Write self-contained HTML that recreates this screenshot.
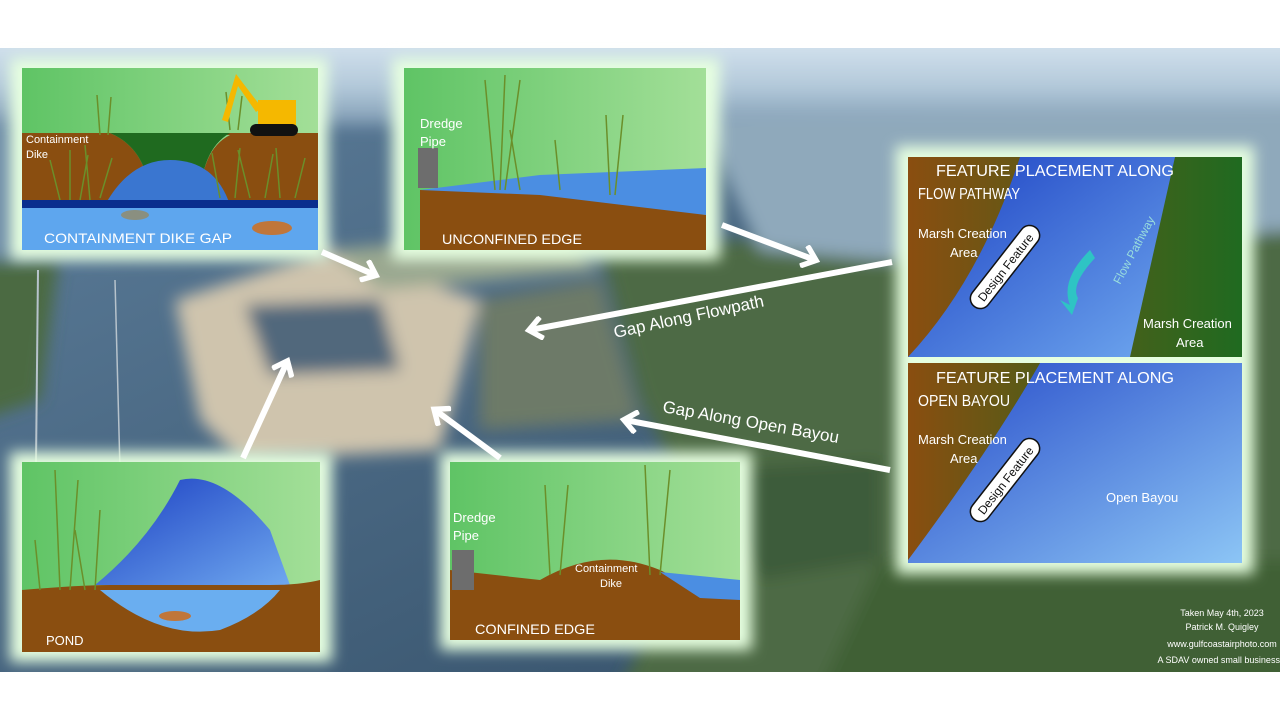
<!DOCTYPE html>
<html><head><meta charset="utf-8"><style>
body{margin:0;width:1280px;height:720px;background:#fff;overflow:hidden;font-family:"Liberation Sans",sans-serif}
svg{display:block}
text{font-family:"Liberation Sans",sans-serif}
</style></head><body>
<svg width="1280" height="720" viewBox="0 0 1280 720" xmlns="http://www.w3.org/2000/svg">
<defs>
<linearGradient id="sky" x1="0" y1="0" x2="0" y2="1">
<stop offset="0" stop-color="#dce9f3"/><stop offset="0.6" stop-color="#b3c9da"/><stop offset="1" stop-color="#7f9bb3"/></linearGradient>
<linearGradient id="wat" x1="0" y1="0" x2="1" y2="1">
<stop offset="0" stop-color="#5e7f9c"/><stop offset="1" stop-color="#2f4a62"/></linearGradient>
<linearGradient id="grn" x1="0" y1="0" x2="1" y2="0">
<stop offset="0" stop-color="#5fc465"/><stop offset="1" stop-color="#a3df98"/></linearGradient>
<linearGradient id="blu" x1="0" y1="0" x2="1" y2="1">
<stop offset="0" stop-color="#1b3fc2"/><stop offset="1" stop-color="#6fa8ef"/></linearGradient>
<linearGradient id="blu2" x1="0" y1="0" x2="1" y2="1">
<stop offset="0" stop-color="#2448c8"/><stop offset="1" stop-color="#8cc5f5"/></linearGradient>
<linearGradient id="brn" x1="0" y1="0" x2="1" y2="0">
<stop offset="0" stop-color="#8a4e10"/><stop offset="1" stop-color="#1f6a20"/></linearGradient>
<filter id="glow" x="-20%" y="-20%" width="140%" height="140%"><feGaussianBlur stdDeviation="7"/></filter>
<filter id="soft" x="-10%" y="-10%" width="120%" height="120%"><feGaussianBlur stdDeviation="8"/></filter>
<clipPath id="ph"><rect x="0" y="48" width="1280" height="624"/></clipPath>
<marker id="ah" markerWidth="4" markerHeight="4" refX="2.2" refY="2" orient="auto" markerUnits="strokeWidth">
<path d="M0.2,0.2 L2.4,2 L0.2,3.8" fill="none" stroke="#fff" stroke-width="0.9"/></marker>
</defs>
<!-- photo -->
<g clip-path="url(#ph)">
<rect x="0" y="48" width="1280" height="624" fill="url(#wat)"/>
<g filter="url(#soft)">
<rect x="-20" y="30" width="1320" height="95" fill="url(#sky)"/>
<path d="M600,250 L1300,200 L1300,690 L620,690 L700,520 L640,400 Z" fill="#4d6b45"/>
<path d="M700,120 L1300,110 L1300,230 L880,260 L760,250 Z" fill="#8fa9bb"/>
<path d="M880,560 L1300,560 L1300,690 L820,690 Z" fill="#3f6136"/>
<path d="M-20,260 L60,250 L40,400 L-20,420 Z" fill="#4c6a42"/>
<path d="M-20,120 L300,120 L330,250 L-20,260Z" fill="#6f8ea8"/>
<path d="M175,300 L330,250 L480,300 L440,450 L240,460 L200,420 Z" fill="#cfc4ad"/>
<path d="M245,305 L380,300 L400,370 L270,375 Z" fill="#51677c"/>
<path d="M480,300 L600,280 L640,420 L480,430 Z" fill="#6d7a68"/>
<path d="M330,250 L560,230 L600,270 L380,290 Z" fill="#9aa890"/>
<path d="M700,470 L880,460 L880,560 L760,580Z" fill="#3e5c3a"/>
</g>
<line x1="38" y1="270" x2="35" y2="560" stroke="#b7c3cc" stroke-width="2"/>
<line x1="115" y1="280" x2="120" y2="470" stroke="#b7c3cc" stroke-width="1.5"/>
</g>
<!-- glows -->
<g fill="#e6ffe0" filter="url(#glow)">
<rect x="10" y="58" width="318" height="202"/>
<rect x="392" y="58" width="328" height="202"/>
<rect x="896" y="146" width="358" height="428"/>
<rect x="10" y="452" width="322" height="210"/>
<rect x="440" y="452" width="312" height="198"/>
</g>
<!-- panel 1 -->
<rect x="22" y="68" width="296" height="182" fill="url(#grn)"/>
<path d="M22,133 L110,133 Q150,150 150,205 L22,205Z" fill="#8a4e10"/>
<path d="M110,133 L318,133 L318,205 L200,205 Q200,150 230,135Z" fill="#8a4e10"/>
<path d="M110,133 L230,133 Q200,150 200,205 L150,205 Q150,150 110,133Z" fill="#1f6a1f"/>
<path d="M105,205 Q130,160 170,160 Q215,160 230,205Z" fill="#3a76d0"/>
<rect x="22" y="200" width="296" height="8" fill="#0a2e8e"/>
<rect x="22" y="208" width="296" height="42" fill="#5ea6ee"/>
<g stroke="#6b8f2a" stroke-width="1.5" fill="none">
<path d="M60,200 l-10,-40 M70,200 l0,-50 M80,200 l8,-45 M90,200 l-5,-55 M100,198 l12,-40 M220,198 l-8,-45 M235,198 l5,-50 M250,198 l-12,-48 M265,198 l8,-44 M280,198 l-4,-50 M295,198 l10,-40"/>
<path d="M100,135 l-3,-40 M108,135 l3,-38 M230,130 l-4,-38 M238,130 l4,-34"/></g>
<g fill="#f5b800"><path d="M222,120 L236,74 L262,108 L256,112 L238,86 L228,122Z"/><rect x="258" y="100" width="38" height="26"/></g>
<rect x="250" y="124" width="48" height="12" rx="6" fill="#111"/>
<text x="26" y="143" font-size="11" fill="#fff">Containment</text>
<text x="26" y="158" font-size="11" fill="#fff">Dike</text>
<ellipse cx="272" cy="228" rx="20" ry="7" fill="#c0763a"/>
<ellipse cx="135" cy="215" rx="14" ry="5" fill="#8a8f80"/>
<text x="44" y="243" font-size="14" fill="#fff" textLength="188" lengthAdjust="spacingAndGlyphs">CONTAINMENT DIKE GAP</text>
<!-- panel 2 -->
<rect x="404" y="68" width="302" height="182" fill="url(#grn)"/>
<path d="M420,190 L540,175 L706,168 L706,215 L420,195Z" fill="#4b8ee2"/>
<path d="M420,190 L540,195 L706,215 L706,250 L420,250Z" fill="#8a4e10"/>
<rect x="418" y="148" width="20" height="40" fill="#6d6d6d"/>
<text x="420" y="128" font-size="13" fill="#fff">Dredge</text>
<text x="420" y="146" font-size="13" fill="#fff">Pipe</text>
<g stroke="#6b8f2a" stroke-width="1.5" fill="none"><path d="M495,190 l-10,-110 M500,190 l5,-115 M505,190 l15,-110 M520,190 l-10,-60 M560,190 l-5,-50 M610,195 l-4,-80 M615,195 l8,-80"/></g>
<text x="442" y="244" font-size="14" fill="#fff" textLength="140" lengthAdjust="spacingAndGlyphs">UNCONFINED EDGE</text>
<!-- panel 3 -->
<rect x="908" y="157" width="334" height="200" fill="url(#brn)"/>
<path d="M1020,157 L1175,157 L1130,357 L908,357 Q980,280 1020,157Z" fill="url(#blu)"/>
<text x="936" y="176" font-size="16" fill="#fff" textLength="238" lengthAdjust="spacingAndGlyphs">FEATURE PLACEMENT ALONG</text>
<text x="918" y="199" font-size="16" fill="#fff" textLength="102" lengthAdjust="spacingAndGlyphs">FLOW PATHWAY</text>
<text x="918" y="238" font-size="13" fill="#fff">Marsh Creation</text>
<text x="950" y="257" font-size="13" fill="#fff">Area</text>
<text x="1143" y="328" font-size="13" fill="#fff">Marsh Creation</text>
<text x="1176" y="347" font-size="13" fill="#fff">Area</text>
<g transform="translate(1005,267) rotate(-52)"><rect x="-50" y="-10" width="100" height="20" rx="10" fill="#fff" stroke="#111" stroke-width="1.5"/><text x="0" y="5" font-size="12" text-anchor="middle" fill="#111">Design Feature</text></g>
<path d="M1090,250 Q1060,280 1070,305 L1060,300 L1072,315 L1078,298 Q1070,285 1095,258Z" fill="#2ec4c4"/>
<text transform="translate(1120,285) rotate(-62)" font-size="12" fill="#9dd">Flow Pathway</text>
<!-- panel 4 -->
<rect x="908" y="363" width="334" height="200" fill="url(#blu2)"/>
<path d="M908,363 L1040,363 Q990,450 908,560Z" fill="url(#brn)"/>
<path d="M908,363 L1040,363 Q990,450 908,560Z" fill="#8a4e10" opacity="0.5"/>
<text x="936" y="383" font-size="16" fill="#fff" textLength="238" lengthAdjust="spacingAndGlyphs">FEATURE PLACEMENT ALONG</text>
<text x="918" y="406" font-size="16" fill="#fff" textLength="92" lengthAdjust="spacingAndGlyphs">OPEN BAYOU</text>
<text x="918" y="444" font-size="13" fill="#fff">Marsh Creation</text>
<text x="950" y="463" font-size="13" fill="#fff">Area</text>
<text x="1106" y="502" font-size="13" fill="#fff">Open Bayou</text>
<g transform="translate(1005,480) rotate(-52)"><rect x="-50" y="-10" width="100" height="20" rx="10" fill="#fff" stroke="#111" stroke-width="1.5"/><text x="0" y="5" font-size="12" text-anchor="middle" fill="#111">Design Feature</text></g>
<!-- panel 5 -->
<rect x="22" y="462" width="298" height="190" fill="url(#grn)"/>
<path d="M95,585 Q150,540 180,480 Q220,470 270,530 Q290,585 290,585Z" fill="url(#blu)"/>
<path d="M22,590 Q80,585 110,585 L270,585 Q300,585 320,580 L320,652 L22,652Z" fill="#8a4e10"/>
<path d="M100,590 Q160,640 220,630 Q260,615 280,590Z" fill="#6aaef0"/>
<ellipse cx="175" cy="616" rx="16" ry="5" fill="#c0763a"/>
<g stroke="#6b8f2a" stroke-width="1.5" fill="none"><path d="M60,590 l-5,-120 M70,590 l8,-110 M85,590 l-10,-60 M95,590 l5,-80 M40,590 l-5,-50"/></g>
<text x="46" y="645" font-size="13" fill="#fff">POND</text>
<!-- panel 6 -->
<rect x="450" y="462" width="290" height="178" fill="url(#grn)"/>
<path d="M450,570 L540,580 Q600,545 660,570 L700,590 L740,585 L740,640 L450,640Z" fill="#8a4e10"/>
<path d="M660,572 L740,580 L740,600 L700,598Z" fill="#4b8ee2"/>
<rect x="452" y="550" width="22" height="40" fill="#6d6d6d"/>
<text x="453" y="522" font-size="13" fill="#fff">Dredge</text>
<text x="453" y="540" font-size="13" fill="#fff">Pipe</text>
<text x="575" y="572" font-size="11" fill="#fff">Containment</text>
<text x="600" y="587" font-size="11" fill="#fff">Dike</text>
<g stroke="#6b8f2a" stroke-width="1.5" fill="none"><path d="M550,575 l-5,-90 M560,575 l8,-90 M650,575 l-5,-110 M660,575 l10,-105"/></g>
<text x="475" y="634" font-size="14" fill="#fff" textLength="120" lengthAdjust="spacingAndGlyphs">CONFINED EDGE</text>
<!-- arrows -->
<g stroke="#fff" stroke-width="6" fill="none" marker-end="url(#ah)">
<line x1="322" y1="252" x2="375" y2="275"/>
<line x1="722" y1="225" x2="815" y2="260"/>
<line x1="892" y1="262" x2="530" y2="330"/>
<line x1="890" y1="470" x2="625" y2="420"/>
<line x1="500" y1="458" x2="435" y2="410"/>
<line x1="243" y1="458" x2="287" y2="362"/>
</g>
<text transform="translate(615,338) rotate(-12)" font-size="17" fill="#fff">Gap Along Flowpath</text>
<text transform="translate(662,412) rotate(10)" font-size="17" fill="#fff">Gap Along Open Bayou</text>
<g font-size="9" fill="#fff" text-anchor="middle">
<text x="1222" y="616">Taken May 4th, 2023</text>
<text x="1222" y="630">Patrick M. Quigley</text>
<text x="1222" y="647">www.gulfcoastairphoto.com</text>
<text x="1220" y="663">A SDAV owned small business.</text>
</g>
</svg>
</body></html>
